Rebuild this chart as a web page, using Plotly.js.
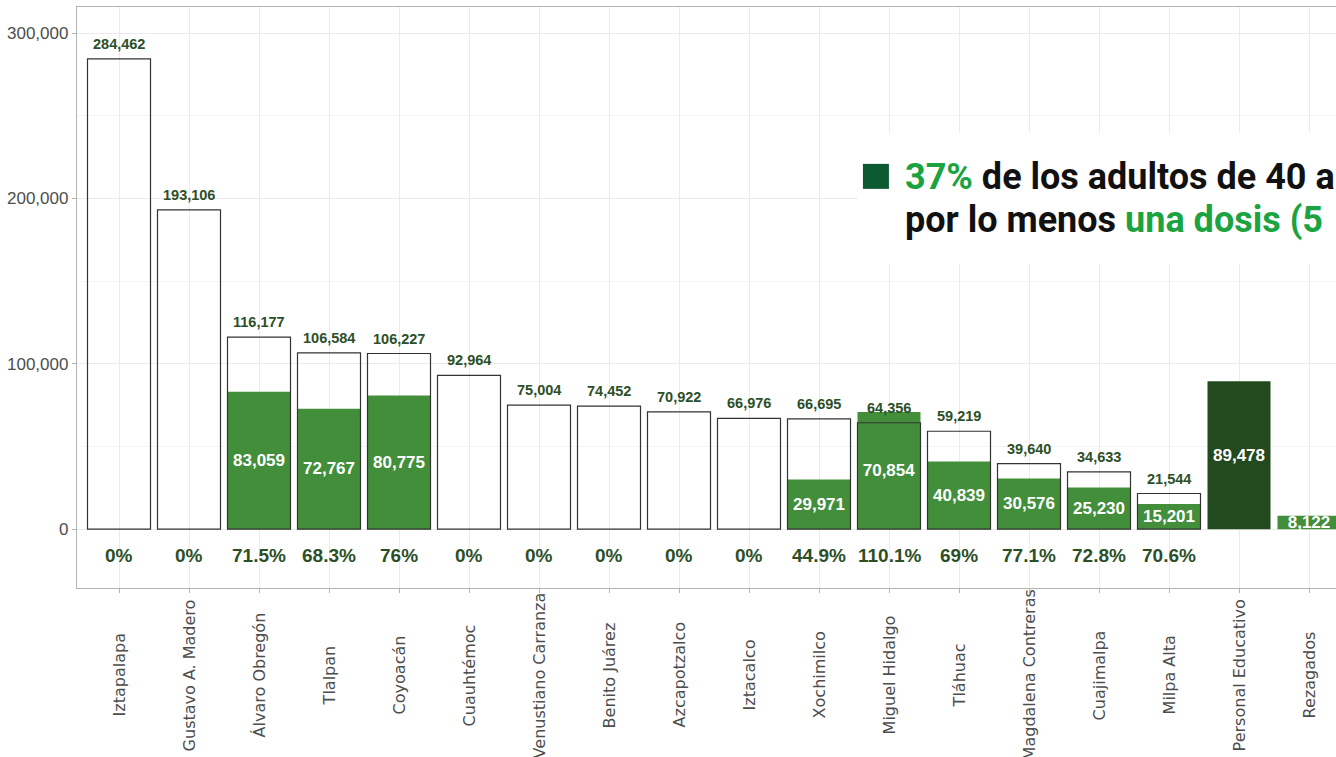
<!DOCTYPE html>
<html>
<head>
<meta charset="utf-8">
<script src="https://cdn.plot.ly/plotly-3.0.1.min.js"></script>
<style>
  html, body { margin: 0; padding: 0; overflow: hidden; background: #fff; }
  #chart { width: 1361px; height: 757px; }
</style>
</head>
<body>
<div id="chart"></div>
<script>
// Alcaldías + special groups, in chart order
const categories = [
  'Iztapalapa', 'Gustavo A. Madero', 'Álvaro Obregón', 'Tlalpan', 'Coyoacán',
  'Cuauhtémoc', 'Venustiano Carranza', 'Benito Juárez', 'Azcapotzalco', 'Iztacalco',
  'Xochimilco', 'Miguel Hidalgo', 'Tláhuac', 'Magdalena Contreras', 'Cuajimalpa',
  'Milpa Alta', 'Personal Educativo', 'Rezagados'
];

// Target population (outlined bars)
const totals = [
  284462, 193106, 116177, 106584, 106227, 92964, 75004, 74452, 70922, 66976,
  66695, 64356, 59219, 39640, 34633, 21544, null, null
];

// Vaccinated (filled bars)
const vaccinated = [
  0, 0, 83059, 72767, 80775, 0, 0, 0, 0, 0,
  29971, 70854, 40839, 30576, 25230, 15201, 89478, 8122
];

// Coverage labels under the bars
const coverage = [
  '0%', '0%', '71.5%', '68.3%', '76%', '0%', '0%', '0%', '0%', '0%',
  '44.9%', '110.1%', '69%', '77.1%', '72.8%', '70.6%'
];

const GREEN = '#428e3a';
const DARK_GREEN = '#234a1f';
const LABEL_GREEN = '#2c4f27';
const fmt = v => v.toLocaleString('en-US');

const fillColors = categories.map(c => c === 'Personal Educativo' ? DARK_GREEN : GREEN);

const traces = [
  {
    x: categories,
    y: vaccinated,
    type: 'bar',
    width: 0.9,
    marker: { color: fillColors, line: { width: 0 } },
    text: vaccinated.map(v => v ? fmt(v) : ''),
    textposition: 'inside',
    insidetextanchor: 'middle',
    textangle: 0,
    constraintext: 'none',
    textfont: { family: 'Liberation Sans, Arial, sans-serif', size: 17, color: '#ffffff', weight: 700 },
    hoverinfo: 'skip',
  },
  {
    x: categories,
    y: totals,
    type: 'bar',
    width: 0.9,
    marker: { color: 'rgba(0,0,0,0)', line: { color: '#333333', width: 1.2 } },
    hoverinfo: 'skip',
  }
];

const annotations = [];

// Total labels above the outlined bars
totals.forEach((t, i) => {
  if (t == null) return;
  annotations.push({
    x: categories[i], y: t, xref: 'x', yref: 'y',
    text: fmt(t), showarrow: false, xanchor: 'center', yanchor: 'bottom', yshift: 5,
    font: { family: 'Liberation Sans, Arial, sans-serif', size: 14.5, color: LABEL_GREEN, weight: 700 },
  });
});

// Coverage % under each bar
coverage.forEach((p, i) => annotations.push({
  x: categories[i], y: 0.0563, xref: 'x', yref: 'paper',
  text: p, showarrow: false, xanchor: 'center', yanchor: 'middle',
  font: { family: 'Liberation Sans, Arial, sans-serif', size: 19, color: LABEL_GREEN, weight: 700 },
}));

// Category names, rotated and centred below the axis
categories.forEach(c => annotations.push({
  x: c, y: -0.1504, xref: 'x', yref: 'paper',
  text: c, showarrow: false, textangle: -90, xanchor: 'center', yanchor: 'middle',
  font: { family: 'DejaVu Sans, sans-serif', size: 16, color: '#4d4d4d' },
}));

// Callout text
const calloutFont = { family: 'Roboto, sans-serif', size: 36, color: '#111111', weight: 700 };
annotations.push({
  x: 0.6483, y: 0.7076, xref: 'paper', yref: 'paper', xanchor: 'left', yanchor: 'middle',
  showarrow: false, align: 'left', font: calloutFont,
  text: '<span style="color:#1aa340">37%</span> de los adultos de 40 a 49 años ha recibido',
});
annotations.push({
  x: 0.6483, y: 0.6335, xref: 'paper', yref: 'paper', xanchor: 'left', yanchor: 'middle',
  showarrow: false, align: 'left', font: calloutFont,
  text: 'por lo menos <span style="color:#1aa340">una dosis (5</span>',
});

const layout = {
  width: 1361,
  height: 757,
  margin: { l: 77, r: 10, t: 7, b: 169 },
  paper_bgcolor: '#ffffff',
  plot_bgcolor: '#ffffff',
  barmode: 'overlay',
  showlegend: false,
  uniformtext: { mode: false },
  xaxis: {
    type: 'category',
    range: [-0.6, 17.6],
    showticklabels: false,
    ticks: 'outside', ticklen: 4, tickcolor: '#b3b3b3',
    showgrid: true, gridcolor: '#ebebeb', gridwidth: 1,
    showline: true, mirror: true, linecolor: '#b3b3b3', linewidth: 1.3,
    zeroline: false,
  },
  yaxis: {
    range: [-35600, 315800],
    tick0: 0, dtick: 100000,
    tickformat: ',',
    ticks: 'outside', ticklen: 4, tickcolor: '#b3b3b3',
    tickfont: { family: 'Liberation Sans, Arial, sans-serif', size: 17, color: '#4d4d4d' },
    showgrid: true, gridcolor: '#ebebeb', gridwidth: 1,
    minor: { dtick: 50000, tick0: 0, showgrid: true, gridcolor: '#f4f4f4', gridwidth: 1 },
    showline: true, mirror: true, linecolor: '#b3b3b3', linewidth: 1.3,
    zeroline: false,
  },
  shapes: [
    // white callout box
    { type: 'rect', xref: 'paper', yref: 'paper', x0: 0.613, x1: 1.2, y0: 0.5577, y1: 0.7834,
      fillcolor: '#ffffff', line: { width: 0 }, layer: 'above' },
    // legend square
    { type: 'rect', xref: 'paper', yref: 'paper', x0: 0.6169, x1: 0.6373, y0: 0.687, y1: 0.730,
      fillcolor: '#0b5a32', line: { width: 0 }, layer: 'above' },
  ],
  annotations,
  hovermode: false,
};

Plotly.newPlot('chart', traces, layout, { displayModeBar: false, responsive: false });
</script>
</body>
</html>
